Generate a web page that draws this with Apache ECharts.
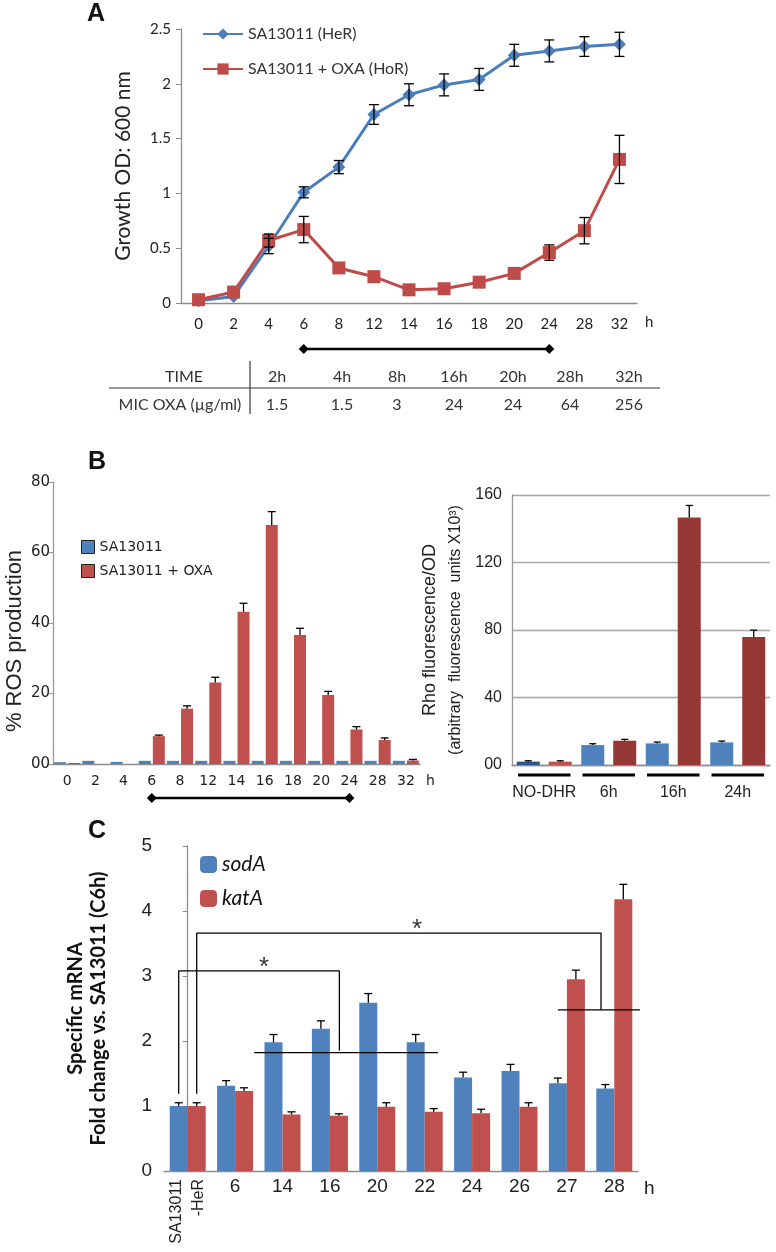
<!DOCTYPE html>
<html>
<head>
<meta charset="utf-8">
<script src="https://cdn.jsdelivr.net/npm/echarts@6/dist/echarts.min.js"></script>
<style>
  html, body { margin: 0; background: #fff; }
  #main { width: 776px; height: 1252px; }
</style>
</head>
<body>
<div id="main"></div>
<script>
// A: growth OD600
const hours = ['0', '2', '4', '6', '8', '12', '14', '16', '18', '20', '24', '28', '32'];
const odHeR = [0.02, 0.06, 0.52, 1.01, 1.24, 1.72, 1.9, 1.99, 2.04, 2.26, 2.3, 2.34, 2.36];
const odHeRErr = [0, 0, 0.07, 0.05, 0.06, 0.09, 0.1, 0.1, 0.1, 0.1, 0.1, 0.09, 0.11];
const odHoR = [0.03, 0.1, 0.57, 0.67, 0.32, 0.24, 0.12, 0.13, 0.19, 0.27, 0.46, 0.66, 1.31];
const odHoRErr = [0, 0, 0.06, 0.12, 0, 0, 0, 0, 0, 0, 0.07, 0.12, 0.22];
const oxaWindow = ['6', '24'];

// table under A
const micTimes = ['2h', '4h', '8h', '16h', '20h', '28h', '32h'];
const micValues = ['1.5', '1.5', '3', '24', '24', '64', '256'];

// B left: % ROS
const rosCtrl = [0.5, 0.9, 0.6, 0.9, 0.9, 0.9, 0.9, 0.9, 0.9, 0.9, 0.9, 0.9, 0.9];
const rosOxa = [0.3, 0, 0, 7.9, 15.7, 23.1, 43.2, 67.8, 36.6, 19.6, 9.8, 6.8, 1.0];
const rosOxaErr = [0, 0, 0, 0.3, 0.8, 1.5, 2.4, 3.8, 1.9, 1.0, 0.8, 0.6, 0.3];

// B right: Rho fluorescence
const rhoGroups = ['NO-DHR', '6h', '16h', '24h'];
const rhoCtrl = [2, 11.8, 12.8, 13.4];
const rhoCtrlErr = [0.5, 0.8, 0.8, 0.8];
const rhoOxa = [2, 14.4, 146.6, 75.9];
const rhoOxaErr = [0.5, 0.8, 7.2, 4];

// C: mRNA fold change
const mrnaCats = ['SA13011\n-HeR', '6', '14', '16', '20', '22', '24', '26', '27', '28'];
const sodA = [1.0, 1.31, 1.98, 2.19, 2.59, 1.98, 1.44, 1.54, 1.35, 1.27];
const sodAErr = [0.05, 0.08, 0.12, 0.12, 0.14, 0.12, 0.08, 0.1, 0.08, 0.06];
const katA = [1.0, 1.23, 0.87, 0.85, 0.99, 0.91, 0.89, 0.99, 2.95, 4.18];
const katAErr = [0.05, 0.05, 0.04, 0.03, 0.06, 0.05, 0.06, 0.06, 0.14, 0.23];

// significance brackets, x in category-index units
const bracketShort = [[-0.19, 1.19], [-0.19, 3.08], [3.2, 3.08], [3.2, 1.85]];
const bracketLong = [[0.19, 1.19], [0.19, 3.66], [8.72, 3.66], [8.72, 2.48]];
const spanMid = [[1.4, 1.82], [5.28, 1.82]];
const spanLate = [[7.81, 2.48], [9.6, 2.48]];
const stars = [[1.61, 3.22], [4.84, 3.8]];

const BLUE = '#4F81BD', RED = '#C0504D', DRED = '#953735';
const AX = '#8c8c8c', TXT = '#222';
const CAL = 'Lato, "Open Sans", sans-serif';
const ARIAL = '"Liberation Sans", Arial, sans-serif';
const NARROW = '"Liberation Sans Narrow", "Liberation Sans", sans-serif';
const VERD = '"DejaVu Sans", Verdana, sans-serif';

const chart = echarts.init(document.getElementById('main'));

// error bars drawn through the axes; offset = px shift from category centre
function errBars(xi, yi, vals, errs, offset, cap, both) {
  return {
    type: 'custom', xAxisIndex: xi, yAxisIndex: yi, silent: true, z: 10,
    data: vals.map((v, i) => [i, both ? v - errs[i] : v, v + errs[i], errs[i]]),
    renderItem: function (params, api) {
      if (!api.value(3)) return null;
      const lo = api.coord([api.value(0), api.value(1)]);
      const hi = api.coord([api.value(0), api.value(2)]);
      const x = lo[0] + offset;
      const st = { stroke: '#000', lineWidth: 1.3 };
      const kids = [
        { type: 'line', shape: { x1: x, y1: lo[1], x2: x, y2: hi[1] }, style: st },
        { type: 'line', shape: { x1: x - cap, y1: hi[1], x2: x + cap, y2: hi[1] }, style: st }
      ];
      if (both) kids.push({ type: 'line', shape: { x1: x - cap, y1: lo[1], x2: x + cap, y2: lo[1] }, style: st });
      return { type: 'group', children: kids };
    }
  };
}

function windowLine(xi, yi) {
  return {
    type: 'line', xAxisIndex: xi, yAxisIndex: yi, silent: true,
    data: oxaWindow.map(h => [h, 0]),
    symbol: 'diamond', symbolSize: 10,
    itemStyle: { color: '#000' }, lineStyle: { color: '#000', width: 2.5 }
  };
}

function annLine(pts) {
  return {
    type: 'line', xAxisIndex: 7, yAxisIndex: 5, silent: true, z: 8,
    data: pts, symbol: 'none',
    lineStyle: { color: '#000', width: 1.3 }
  };
}

const catLabel = (font, size, margin) => ({ interval: 0, fontFamily: font, fontSize: size, color: TXT, margin: margin });

// table graphics
const tableX = [277, 342, 397, 454, 513, 570, 629];
const tableFont = '16px ' + CAL;
const graphics = [
  { type: 'text', left: 87, top: 2, style: { text: 'A', font: 'bold 25px ' + ARIAL, fill: '#111' } },
  { type: 'text', left: 88, top: 450, style: { text: 'B', font: 'bold 25px ' + ARIAL, fill: '#111' } },
  { type: 'text', left: 88, top: 819, style: { text: 'C', font: 'bold 25px ' + ARIAL, fill: '#111' } },
  { type: 'line', shape: { x1: 109, y1: 388, x2: 660, y2: 388 }, style: { stroke: '#999', lineWidth: 2 } },
  { type: 'line', shape: { x1: 250, y1: 361, x2: 250, y2: 414 }, style: { stroke: '#333', lineWidth: 1.2 } },
  { type: 'text', x: 184, y: 377, style: { text: 'TIME', font: tableFont, fill: '#333', align: 'center', verticalAlign: 'middle' } },
  { type: 'text', x: 180, y: 405, style: { text: 'MIC OXA (µg/ml)', font: tableFont, fill: '#333', align: 'center', verticalAlign: 'middle' } }
];
micTimes.forEach((t, i) => {
  graphics.push({ type: 'text', x: tableX[i], y: 377, style: { text: t, font: tableFont, fill: '#333', align: 'center', verticalAlign: 'middle' } });
  graphics.push({ type: 'text', x: tableX[i], y: 405, style: { text: micValues[i], font: tableFont, fill: '#333', align: 'center', verticalAlign: 'middle' } });
});

chart.setOption({
  animation: false,
  backgroundColor: '#fff',
  graphic: graphics,
  legend: [
    {
      data: ['SA13011 (HeR)', 'SA13011 + OXA (HoR)'], orient: 'vertical', left: 197, top: 21,
      itemWidth: 40, itemHeight: 14, itemGap: 19,
      textStyle: { fontFamily: CAL, fontSize: 16, color: '#333' }
    },
    {
      data: ['SA13011', 'SA13011 + OXA'], orient: 'vertical', left: 76, top: 535,
      itemWidth: 13, itemHeight: 13, itemGap: 10, icon: 'rect',
      itemStyle: { borderColor: '#222', borderWidth: 1 },
      textStyle: { fontFamily: VERD, fontSize: 14, color: '#222' }
    },
    {
      data: ['sodA', 'katA'], orient: 'vertical', left: 195, top: 849,
      itemWidth: 17, itemHeight: 17, itemGap: 13, icon: 'roundRect',
      textStyle: { fontFamily: CAL, fontSize: 21, fontStyle: 'italic', color: '#111' }
    }
  ],
  grid: [
    { left: 181, top: 29, width: 456, height: 274 },
    { left: 181, top: 344, width: 456, height: 10 },
    { left: 53, top: 482, width: 367, height: 282 },
    { left: 53, top: 793, width: 367, height: 10 },
    { left: 512, top: 495, width: 258, height: 270 },
    { left: 164, top: 846, width: 474, height: 325 }
  ],
  xAxis: [
    {
      gridIndex: 0, type: 'category', data: hours,
      axisLine: { lineStyle: { color: AX, width: 1.3 } },
      axisTick: { length: 5, lineStyle: { color: AX } },
      axisLabel: catLabel(CAL, 15, 14),
      name: 'h', nameGap: 8, nameTextStyle: { fontFamily: CAL, fontSize: 15, color: TXT, verticalAlign: 'top', padding: [12, 0, 0, 0] }
    },
    { gridIndex: 1, type: 'category', data: hours, show: false },
    {
      gridIndex: 2, type: 'category', data: hours,
      axisLine: { lineStyle: { color: AX, width: 1.3 } },
      axisTick: { length: 5, lineStyle: { color: AX } },
      axisLabel: catLabel(VERD, 14, 10),
      name: 'h', nameGap: 6, nameTextStyle: { fontFamily: VERD, fontSize: 14, color: TXT, verticalAlign: 'top', padding: [10, 0, 0, 0] }
    },
    { gridIndex: 3, type: 'category', data: hours, show: false },
    {
      gridIndex: 4, type: 'category', data: rhoGroups,
      axisLine: { lineStyle: { color: AX, width: 1.3 } },
      axisTick: { length: 5, lineStyle: { color: AX } },
      axisLabel: catLabel(ARIAL, 16, 20)
    },
    {
      gridIndex: 5, type: 'category', data: mrnaCats, position: 'bottom',
      axisLine: { lineStyle: { color: AX, width: 1.3 } },
      axisTick: { length: 5, lineStyle: { color: AX } },
      axisLabel: Object.assign(catLabel(NARROW, 19, 6), { formatter: (v, i) => i === 0 ? '' : v }),
      name: 'h', nameGap: 6, nameTextStyle: { fontFamily: NARROW, fontSize: 19, color: TXT, verticalAlign: 'top', padding: [8, 0, 0, 0] }
    },
    {
      gridIndex: 5, type: 'category', data: mrnaCats, position: 'bottom',
      axisLine: { show: false }, axisTick: { show: false },
      axisLabel: Object.assign(catLabel(ARIAL, 16, 8), { rotate: 90, lineHeight: 22, formatter: (v, i) => i === 0 ? v : '' })
    },
    { gridIndex: 5, type: 'value', min: -0.5, max: 9.5, show: false }
  ],
  yAxis: [
    {
      gridIndex: 0, type: 'value', min: 0, max: 2.5, interval: 0.5,
      axisLine: { show: true, lineStyle: { color: AX, width: 1.3 } },
      axisTick: { show: true, length: 5, lineStyle: { color: AX } },
      splitLine: { show: false },
      axisLabel: { fontFamily: CAL, fontSize: 15, color: TXT, margin: 10 },
      name: 'Growth OD: 600 nm', nameLocation: 'middle', nameGap: 47,
      nameTextStyle: { fontFamily: CAL, fontSize: 21, color: TXT }
    },
    { gridIndex: 1, type: 'value', min: -1, max: 1, show: false },
    {
      gridIndex: 2, type: 'value', min: 0, max: 80, interval: 20,
      axisLine: { show: true, lineStyle: { color: '#999', width: 1.3 } },
      axisTick: { show: true, length: 4, lineStyle: { color: '#999' } },
      splitLine: { show: false },
      axisLabel: { fontFamily: VERD, fontSize: 15, color: TXT, margin: 3, formatter: v => v === 0 ? '00' : v },
      name: '% ROS production', nameLocation: 'middle', nameGap: 27,
      nameTextStyle: { fontFamily: ARIAL, fontSize: 22, color: TXT, padding: [0, 36, 0, 0] }
    },
    { gridIndex: 3, type: 'value', min: -1, max: 1, show: false },
    {
      gridIndex: 4, type: 'value', min: 0, max: 160, interval: 40,
      axisLine: { show: true, lineStyle: { color: '#999', width: 1.3 } },
      axisTick: { show: false },
      splitLine: { show: true, lineStyle: { color: '#a6a6a6', width: 1.3 } },
      axisLabel: { fontFamily: ARIAL, fontSize: 16, color: TXT, margin: 10, formatter: v => v === 0 ? '00' : v },
      name: '{a|Rho fluorescence/OD}\n{b|(arbitrary  fluorescence  units X10³)}',
      nameLocation: 'middle', nameGap: 44,
      nameTextStyle: {
        rich: {
          a: { fontFamily: ARIAL, fontSize: 18, color: TXT, lineHeight: 25 },
          b: { fontFamily: ARIAL, fontSize: 16, color: TXT, lineHeight: 25 }
        }
      }
    },
    {
      gridIndex: 5, type: 'value', min: 0, max: 5, interval: 1,
      axisLine: { show: true, lineStyle: { color: AX, width: 1.3 } },
      axisTick: { show: true, length: 5, lineStyle: { color: AX } },
      splitLine: { show: false },
      axisLabel: { fontFamily: NARROW, fontSize: 19, color: TXT, margin: 12 },
      name: 'Specific mRNA\nFold change vs. SA13011 (C6h)', nameLocation: 'middle', nameGap: 54,
      nameTextStyle: { fontFamily: CAL, fontSize: 20, fontWeight: 'bold', color: '#111', lineHeight: 23 }
    }
  ],
  series: [
    // A
    {
      name: 'SA13011 (HeR)', type: 'line', xAxisIndex: 0, yAxisIndex: 0, data: odHeR,
      symbol: 'diamond', symbolSize: 13, color: '#4A7EBB',
      lineStyle: { width: 3 }
    },
    {
      name: 'SA13011 + OXA (HoR)', type: 'line', xAxisIndex: 0, yAxisIndex: 0, data: odHoR,
      symbol: 'rect', symbolSize: 13, color: '#BE4B48',
      lineStyle: { width: 3 }
    },
    errBars(0, 0, odHeR, odHeRErr, 0, 5, true),
    errBars(0, 0, odHoR, odHoRErr, 0, 5, true),
    windowLine(1, 1),
    // B left
    {
      name: 'SA13011', type: 'bar', xAxisIndex: 2, yAxisIndex: 2, data: rosCtrl,
      barWidth: 12, barGap: '17%', color: BLUE
    },
    {
      name: 'SA13011 + OXA', type: 'bar', xAxisIndex: 2, yAxisIndex: 2, data: rosOxa,
      barWidth: 12, color: RED
    },
    errBars(2, 2, rosOxa, rosOxaErr, 7, 4, false),
    windowLine(3, 3),
    // B right
    {
      name: 'Rho SA13011', type: 'bar', xAxisIndex: 4, yAxisIndex: 4,
      data: rhoCtrl.map((v, i) => i === 0 ? { value: v, itemStyle: { color: '#2E5587' } } : v),
      barWidth: 23, barGap: '39%', color: BLUE
    },
    {
      name: 'Rho SA13011 + OXA', type: 'bar', xAxisIndex: 4, yAxisIndex: 4,
      data: rhoOxa.map((v, i) => i === 0 ? { value: v, itemStyle: { color: RED } } : v),
      barWidth: 23, color: DRED
    },
    errBars(4, 4, rhoCtrl, rhoCtrlErr, -16, 3.5, false),
    errBars(4, 4, rhoOxa, rhoOxaErr, 16, 3.5, false),
    {
      type: 'custom', xAxisIndex: 4, yAxisIndex: 4, silent: true, clip: false,
      data: rhoGroups.map((g, i) => [i, 0]),
      renderItem: function (params, api) {
        const p = api.coord([api.value(0), 0]);
        const w = api.size([1, 0])[0];
        return {
          type: 'line',
          shape: { x1: p[0] - w / 2 + 6, y1: p[1] + 10, x2: p[0] + w / 2 - 6, y2: p[1] + 10 },
          style: { stroke: '#000', lineWidth: 3 }
        };
      }
    },
    // C
    {
      name: 'sodA', type: 'bar', xAxisIndex: 5, yAxisIndex: 5, data: sodA,
      barWidth: 18, barGap: 0, color: BLUE
    },
    {
      name: 'katA', type: 'bar', xAxisIndex: 5, yAxisIndex: 5, data: katA,
      barWidth: 18, color: RED
    },
    errBars(5, 5, sodA, sodAErr, -9, 4, false),
    errBars(5, 5, katA, katAErr, 9, 4, false),
    annLine(bracketShort),
    annLine(bracketLong),
    annLine(spanMid),
    annLine(spanLate),
    {
      type: 'scatter', xAxisIndex: 7, yAxisIndex: 5, silent: true, data: stars,
      symbolSize: 1, itemStyle: { color: 'rgba(0,0,0,0)' },
      label: { show: true, formatter: '*', position: 'inside', fontFamily: ARIAL, fontSize: 26, color: '#000', offset: [0, 6] }
    }
  ]
});
</script>
</body>
</html>
